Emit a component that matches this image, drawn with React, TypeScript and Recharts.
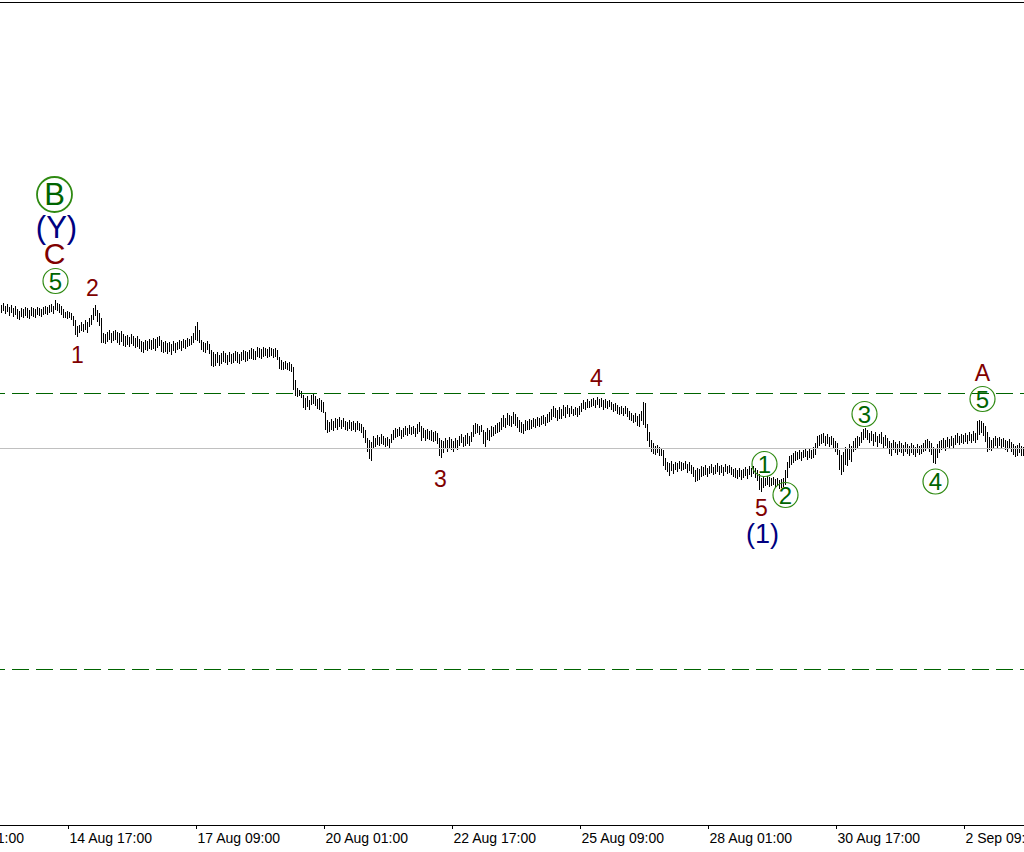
import React from 'react';
import { ComposedChart, Bar, XAxis, YAxis, ReferenceLine, ReferenceDot } from 'recharts';

// H1 bars: high / low prices (points), one per hour
const barHigh = [
  520,522,519,521,518,520,517,519,516,514,517,516,518,517,515,518,
  517,516,518,517,516,518,519,518,520,521,519,525,522,521,519,516,
  513,514,513,512,509,505,499,500,503,501,505,503,507,510,517,520,
  515,512,507,492,491,493,495,492,494,495,493,492,494,491,489,490,
  488,491,489,487,489,486,484,483,485,484,486,485,487,486,488,489,
  485,483,484,482,483,481,484,482,483,485,484,486,485,487,486,489,
  492,499,503,495,485,483,482,484,481,475,473,471,473,470,472,474,
  472,470,473,471,472,474,473,471,473,475,474,473,475,477,476,474,
  478,477,476,478,477,476,478,477,476,477,475,468,465,463,464,462,
  463,461,458,445,437,435,434,430,427,429,425,430,432,429,426,427,
  425,423,413,405,403,406,404,407,406,408,405,407,404,403,405,403,
  404,402,404,402,401,398,395,387,385,383,389,387,390,388,391,389,
  387,388,386,391,395,397,396,398,395,397,399,397,400,398,399,397,
  401,403,399,397,395,396,394,395,393,394,392,387,385,384,387,385,
  388,386,384,387,385,389,391,388,390,392,389,393,400,402,401,399,
  400,395,393,397,395,399,398,400,402,403,407,410,407,412,410,409,
  413,411,408,405,403,401,405,404,406,405,407,406,408,407,409,410,
  408,411,413,416,419,417,415,418,416,420,418,420,417,419,416,418,
  417,419,422,425,423,426,424,426,427,425,428,426,427,425,426,424,
  425,423,421,422,420,418,419,417,419,417,414,412,410,412,409,411,
  414,423,422,401,393,385,382,379,380,378,377,375,367,363,362,364,
  361,363,362,364,363,362,364,361,363,360,358,355,357,356,359,358,
  360,357,359,361,358,360,362,359,360,358,361,359,360,358,356,357,
  355,357,355,356,358,356,359,357,359,357,355,351,347,348,347,349,
  348,347,348,346,347,345,346,347,355,363,369,370,372,374,373,375,
  373,375,376,374,377,375,378,382,389,390,391,392,389,391,388,389,
  387,384,382,375,370,373,378,376,381,379,384,387,389,388,393,396,
  397,395,392,394,391,393,389,391,393,388,390,387,384,382,385,383,
  381,384,382,380,383,381,379,382,380,378,381,379,380,382,385,386,
  384,382,378,376,381,384,385,387,385,388,386,389,387,390,392,389,
  391,390,392,390,393,391,394,392,404,405,404,402,399,393,388,385,
  387,389,387,388,386,387,385,384,386,383,381,379,380,382,379,378,
];
const barLow = [
  512,514,511,513,509,512,508,510,506,505,508,507,509,507,506,509,
  508,507,510,509,508,510,511,510,512,513,511,515,514,512,510,507,
  507,506,507,505,499,490,488,492,494,493,495,492,498,500,505,509,
  503,499,482,482,481,483,485,482,484,485,482,480,483,479,478,480,
  478,481,479,477,478,476,473,472,475,474,476,475,476,474,477,479,
  473,472,473,471,473,470,474,472,475,476,474,477,476,478,479,480,
  482,485,484,482,475,473,472,475,471,459,458,459,462,459,461,463,
  462,460,463,461,462,464,462,461,464,465,463,464,466,466,465,465,
  468,467,466,468,469,467,468,469,467,468,465,456,455,455,456,455,
  454,453,435,429,428,429,427,417,415,418,415,420,421,419,416,415,
  413,412,395,392,393,395,394,397,395,398,396,398,395,394,396,394,
  395,393,395,394,392,387,382,373,366,364,376,378,380,379,381,380,
  378,379,377,382,385,387,388,389,386,388,390,389,391,390,391,388,
  391,393,384,387,384,386,385,384,383,384,381,369,367,372,376,373,
  377,375,373,377,375,379,382,378,379,381,379,383,388,391,392,390,
  393,381,378,385,384,388,389,391,392,393,395,398,397,400,399,398,
  401,399,397,393,392,391,394,395,395,396,398,397,399,398,400,401,
  399,402,403,405,408,407,404,406,406,409,407,411,408,411,409,410,
  408,410,413,416,415,417,417,418,419,417,420,417,418,415,417,416,
  418,415,413,414,411,410,411,409,411,408,405,404,402,403,399,398,
  404,400,397,384,378,373,371,370,372,369,369,359,355,353,349,354,
  351,355,353,356,354,355,356,352,354,351,348,343,344,345,348,349,
  350,348,351,352,350,351,353,350,352,349,353,351,352,350,348,347,
  346,348,345,347,349,346,350,348,351,347,344,335,333,337,339,340,
  338,339,340,337,339,336,337,338,340,347,357,360,362,364,365,366,
  364,367,368,365,367,366,367,370,377,379,381,382,379,381,378,380,
  377,373,370,355,350,353,360,359,365,363,373,375,377,379,382,385,
  387,385,382,384,379,383,378,382,381,377,379,376,371,369,375,372,
  370,373,372,369,373,371,369,372,370,368,372,370,371,373,374,376,
  373,370,362,361,367,372,375,376,374,378,377,379,377,380,382,380,
  382,381,383,381,384,382,384,382,385,390,392,389,383,373,375,374,
  377,379,377,379,377,378,375,373,376,373,370,368,369,372,369,369,
];

// time axis: bar index of each label, and its text
const tickIndex = [-30, 34, 98, 162, 226, 290, 354, 418, 482];
const tickLabels = [
  '12 Aug 01:00', '14 Aug 17:00', '17 Aug 09:00', '20 Aug 01:00', '22 Aug 17:00',
  '25 Aug 09:00', '28 Aug 01:00', '30 Aug 17:00', '2 Sep 09:00',
];

// horizontal levels (price)
const dashedLevels = [432, 156];
const solidLevels = [377];

// Elliott wave marks: text, bar index, price, degree
const waveText = ['B', '(Y)', 'C', '5', '2', '1', '3', '4', '5', '(1)', '1', '2', '3', '4', '5', 'A'];
const waveIdx = [27, 28, 27, 27.5, 46, 38.5, 220, 298, 380.5, 381, 382, 392.5, 432, 467.5, 491, 491];
const wavePrice = [630.5, 598, 572, 544, 537, 470, 346, 447, 317, 291, 361, 330, 411, 343.5, 426, 452];
const waveDegree = [
  'primary', 'intermediate', 'minorTop', 'minute', 'minor', 'minor', 'minor', 'minor',
  'minor', 'intermediateSmall', 'minute', 'minute', 'minute', 'minute', 'minute', 'minor',
];

const Y_MIN = 0;
const Y_MAX = 823;

const degreeStyle: Record<string, { color: string; size: number; ring: number; ringWidth: number }> = {
  primary: { color: '#006400', size: 31, ring: 17.5, ringWidth: 1.8 },
  intermediate: { color: '#000080', size: 31, ring: 0, ringWidth: 0 },
  intermediateSmall: { color: '#000080', size: 27, ring: 0, ringWidth: 0 },
  minorTop: { color: '#800000', size: 30, ring: 0, ringWidth: 0 },
  minor: { color: '#800000', size: 23, ring: 0, ringWidth: 0 },
  minute: { color: '#006400', size: 24, ring: 12.5, ringWidth: 1.2 },
};

const FONT = '"Liberation Sans", Arial, sans-serif';

const data = barHigh.map((h, i) => ({ i, range: [barLow[i], h] }));

const HLBar = (p: any) => {
  if (p.x == null || p.height == null) return null;
  const cx = Math.floor(p.x + p.width / 2);
  const top = Math.round(Math.min(p.y, p.y + p.height));
  const h = Math.max(1, Math.round(Math.abs(p.height)));
  return <rect x={cx} y={top} width={1} height={h} fill="#000" shapeRendering="crispEdges" />;
};

const WaveMark = (props: any) => {
  const { cx, cy, text, degree } = props;
  const st = degreeStyle[degree];
  return (
    <g>
      {st.ring > 0 ? (
        <circle cx={cx} cy={cy} r={st.ring} fill="none" stroke="#2f8a12" strokeWidth={st.ringWidth} />
      ) : null}
      <text
        x={cx}
        y={cy}
        textAnchor="middle"
        dominantBaseline="central"
        fill={st.color}
        fontSize={st.size}
        fontFamily={FONT}
      >
        {text}
      </text>
    </g>
  );
};

const TimeTick = (props: any) => {
  const { x, y, payload } = props;
  const k = tickIndex.indexOf(payload.value);
  return (
    <text x={x + 1} y={y + 12} textAnchor="start" fill="#000" fontSize={14} fontFamily={FONT}>
      {k >= 0 ? tickLabels[k] : ''}
    </text>
  );
};

export default function App() {
  return (
    <div style={{ position: 'absolute', left: 0, top: 0, width: 1024, height: 852, background: '#fff' }}>
      <ComposedChart width={1024} height={852} data={data} margin={{ top: 2, right: 0, bottom: 0, left: 0 }}>
        <XAxis
          dataKey="i"
          type="number"
          domain={[-0.25, 511.75]}
          ticks={tickIndex}
          interval={0}
          tick={<TimeTick />}
          tickSize={4}
          tickLine={{ stroke: '#000', shapeRendering: 'crispEdges' }}
          axisLine={{ stroke: '#000', shapeRendering: 'crispEdges' }}
          height={27}
          allowDataOverflow
        />
        <YAxis hide type="number" domain={[Y_MIN, Y_MAX]} allowDataOverflow />
        <ReferenceLine y={Y_MAX} stroke="#000" strokeWidth={1} shapeRendering="crispEdges" />
        {solidLevels.map((v) => (
          <ReferenceLine key={'s' + v} y={v} stroke="#c0c0c0" strokeWidth={1} shapeRendering="crispEdges" />
        ))}
        {dashedLevels.map((v) => (
          <ReferenceLine
            key={'d' + v}
            y={v}
            stroke="#006400"
            strokeWidth={1}
            strokeDasharray="17 7"
            strokeDashoffset={12}
            shapeRendering="crispEdges"
          />
        ))}
        <Bar dataKey="range" fill="#000" barSize={1} shape={HLBar} isAnimationActive={false} />
        {waveText.map((t, k) => (
          <ReferenceDot
            key={'w' + k}
            x={waveIdx[k]}
            y={wavePrice[k]}
            r={1}
            shape={(p: any) => <WaveMark cx={p.cx} cy={p.cy} text={t} degree={waveDegree[k]} />}
          />
        ))}
      </ComposedChart>
    </div>
  );
}
